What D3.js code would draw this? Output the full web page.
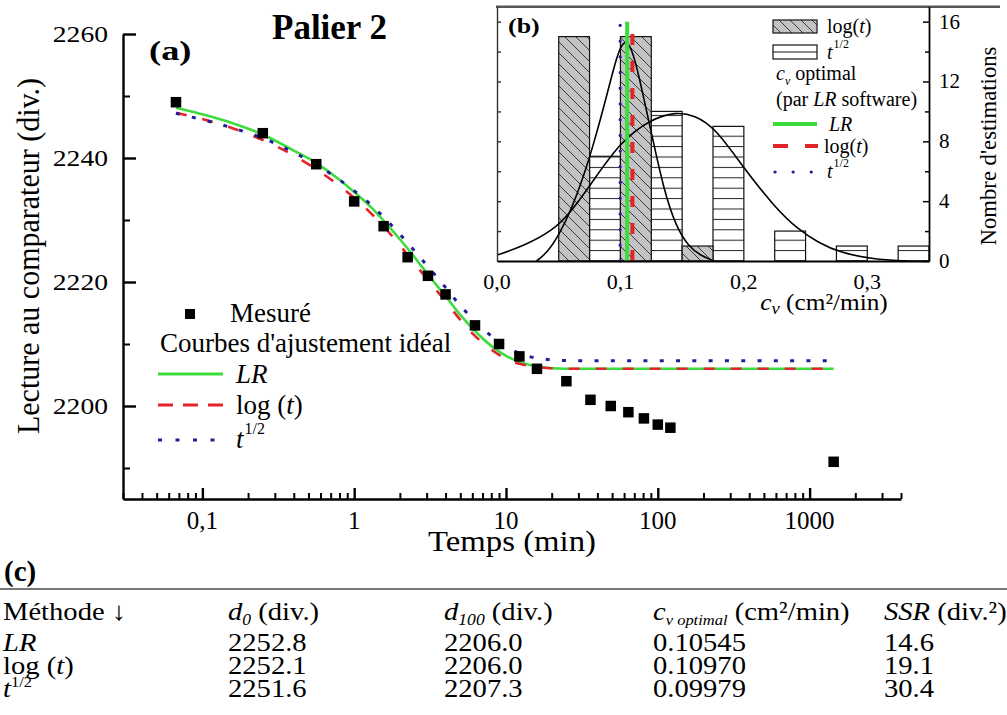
<!DOCTYPE html>
<html>
<head>
<meta charset="utf-8">
<script src="https://cdn.jsdelivr.net/npm/d3@7"></script>
<style>
  html, body { margin: 0; padding: 0; background: #fff; }
  svg { display: block; font-family: "Liberation Serif", "Times New Roman", serif; }
</style>
</head>
<body>
<svg id="fig" width="1007" height="715"></svg>
<script>
// ---------- (a) Palier 2 : dial readings vs time ----------
const timeMin = [0.067, 0.25, 0.5625, 1, 1.5625, 2.25, 3.0625, 4, 6.25, 9, 12.25, 16, 25, 36, 49, 64, 81, 100, 121, 1440];
const reading = [2249, 2244, 2239, 2233, 2229, 2224, 2221, 2218, 2213, 2210, 2208, 2206, 2204, 2201, 2200, 2199, 2198, 2197, 2196.5, 2191];

// best-fit curves (LR, log(t), t^1/2)
const fitTime = [0.067, 0.15, 0.25, 0.4, 0.57, 0.8, 1, 1.3, 1.56, 2, 2.5, 3.06, 4, 5, 6.25, 8, 10, 12.25, 16, 20, 30, 1440];
const fitLR   = [2248.1, 2245.8, 2243.8, 2241.2, 2239.1, 2236.5, 2234.5, 2232.0, 2229.9, 2226.9, 2224.0, 2221.2, 2217.7, 2214.7, 2212.1, 2209.7, 2208.1, 2207.1, 2206.4, 2206.1, 2206.0, 2206.0];
const fitLog  = [2247.3, 2245.0, 2242.9, 2240.4, 2238.1, 2235.5, 2233.6, 2231.0, 2229.0, 2225.9, 2223.0, 2220.3, 2216.9, 2213.9, 2211.3, 2209.1, 2207.6, 2206.8, 2206.3, 2206.1, 2206.0, 2206.0];
const fitSqrt = [2247.2, 2245.0, 2243.2, 2240.9, 2238.8, 2236.5, 2234.7, 2232.4, 2230.5, 2227.7, 2225.0, 2222.5, 2219.1, 2216.2, 2213.7, 2211.3, 2209.6, 2208.5, 2207.7, 2207.45, 2207.3, 2207.3];

const xMajorTicks = [0.1, 1, 10, 100, 1000];
const xTickLabels = ["0,1", "1", "10", "100", "1000"];
const yMajorTicks = [2200, 2220, 2240, 2260];
const yMinorTicks = [2190, 2210, 2230, 2250];

// ---------- (b) histogram of c_v estimates ----------
const binWidth = 0.025;
const logBinStart = [0.05, 0.10, 0.15];
const logCount = [15, 15, 1];
const sqrtBinStart = [0.075, 0.125, 0.175, 0.225, 0.275, 0.325];
const sqrtCount = [7, 10, 9, 2, 1, 1];

const narrowCv = [0.032, 0.04, 0.05, 0.06, 0.07, 0.08, 0.09, 0.097, 0.103, 0.109, 0.115, 0.125, 0.135, 0.145, 0.155, 0.165, 0.176];
const narrowN  = [0, 0.5, 1.7, 3.4, 5.6, 8.3, 11.4, 13.7, 14.85, 14.3, 12.4, 8.6, 4.8, 2.3, 1.0, 0.35, 0];
const wideCv = [0, 0.02, 0.045, 0.06, 0.075, 0.1, 0.125, 0.145, 0.16, 0.177, 0.2, 0.225, 0.244, 0.26, 0.278, 0.305, 0.332];
const wideN  = [0.4, 0.95, 2.0, 3.3, 5.0, 8.0, 9.5, 9.97, 9.75, 8.9, 6.2, 3.6, 2.1, 1.25, 0.55, 0.12, 0];

const cvTicks = [0, 0.1, 0.2, 0.3];
const cvTickLabels = ["0,0", "0,1", "0,2", "0,3"];
const countTicks = [0, 4, 8, 12, 16];
const countMinor = [2, 6, 10, 14];

// ---------- (c) table ----------
const methods = ["LR", "log", "sqrt"];
const d0 = [2252.8, 2252.1, 2251.6];
const d100 = [2206.0, 2206.0, 2207.3];
const cvOptimal = [0.10545, 0.10970, 0.09979];
const ssr = [14.6, 19.1, 30.4];

const GREEN = "#3ddc3d", RED = "#e3242b", BLUE = "#1f1f9a";

const svg = d3.select("#fig");

// text helper: runs of plain / italic / raised / lowered pieces
function rich(parent, x, y, runs, o = {}) {
  let tf = `translate(${x},${y})`;
  if (o.sx && o.sx !== 1) tf += ` scale(${o.sx},1)`;
  if (o.rot) tf += ` rotate(${o.rot})`;
  const t = parent.append("text").attr("transform", tf)
    .attr("font-size", o.size || 20)
    .attr("text-anchor", o.anchor || "start")
    .attr("fill", "#000");
  if (o.bold) t.attr("font-weight", "bold");
  let cur = 0;
  runs.forEach(r => {
    if (typeof r === "string") r = { t: r };
    const shift = r.shift || 0;
    const ts = t.append("tspan").text(r.t);
    if (shift !== cur) ts.attr("dy", cur - shift);
    cur = shift;
    if (r.i) ts.attr("font-style", "italic");
    if (r.size) ts.attr("font-size", r.size);
    if (r.dx) ts.attr("dx", r.dx);
  });
  return t;
}

// ================= panel (a) =================
const x = d3.scaleLog().domain([0.03, 4000]).range([123, 901]);
const y = d3.scaleLinear().domain([2185, 2260]).range([499, 34]);
const gA = svg.append("g");

const xMinorTicks = [];
for (let e = -2; e <= 3; e++) for (let k = 2; k <= 9; k++) {
  const v = +(k * Math.pow(10, e)).toPrecision(6);
  if (v >= 0.03 && v <= 4000) xMinorTicks.push(v);
}

function styleAxis(g, w) {
  g.selectAll("path.domain").attr("stroke", "#000").attr("stroke-width", w);
  g.selectAll(".tick line").attr("stroke", "#000").attr("stroke-width", w);
  g.selectAll(".tick text").remove();
}

const gxMinor = gA.append("g").attr("transform", "translate(0,499)")
  .call(d3.axisBottom(x).tickValues(xMinorTicks).tickSizeInner(-6).tickSizeOuter(0).tickFormat(""));
styleAxis(gxMinor, 2);
const gxMajor = gA.append("g").attr("transform", "translate(0,499)")
  .call(d3.axisBottom(x).tickValues(xMajorTicks).tickSizeInner(-11).tickSizeOuter(0).tickFormat(""));
styleAxis(gxMajor, 2.4);
gxMinor.select("path.domain").remove();

const gyMinor = gA.append("g").attr("transform", "translate(123,0)")
  .call(d3.axisLeft(y).tickValues(yMinorTicks).tickSizeInner(-7).tickSizeOuter(0).tickFormat(""));
styleAxis(gyMinor, 2);
gyMinor.select("path.domain").remove();
const gyMajor = gA.append("g").attr("transform", "translate(123,0)")
  .call(d3.axisLeft(y).tickValues(yMajorTicks).tickSizeInner(-13).tickSizeOuter(0).tickFormat(""));
styleAxis(gyMajor, 2.4);

xMajorTicks.forEach((v, i) => rich(gA, x(v), 529, [xTickLabels[i]], { size: 25, anchor: "middle" }));
yMajorTicks.forEach(v => rich(gA, 108, y(v) + 7.5, [String(v)], { size: 24, anchor: "end", sx: 1.15 }));

rich(gA, 512, 551, ["Temps (min)"], { size: 29, anchor: "middle", sx: 1.13 });
rich(gA, 39, 256, ["Lecture au comparateur (div.)"], { size: 30, anchor: "middle", rot: -90, sx: 1.08 });
rich(gA, 272, 39, ["Palier 2"], { size: 35, bold: true });
rich(gA, 149, 60, ["(a)"], { size: 27, bold: true, sx: 1.35 });

// fitted curves
const fitLine = d3.line().x(d => x(d[0])).y(d => y(d[1])).curve(d3.curveMonotoneX);
const zipFit = arr => fitTime.map((t, i) => [t, arr[i]]);
gA.append("path").attr("d", fitLine(zipFit(fitLR))).attr("fill", "none")
  .attr("stroke", GREEN).attr("stroke-width", 2.6);
gA.append("path").attr("d", fitLine(zipFit(fitLog))).attr("fill", "none")
  .attr("stroke", RED).attr("stroke-width", 2.6).attr("stroke-dasharray", "11,16");
gA.append("path").attr("d", fitLine(zipFit(fitSqrt))).attr("fill", "none")
  .attr("stroke", BLUE).attr("stroke-width", 3).attr("stroke-dasharray", "4,12.3");

// measured readings
gA.append("g").selectAll("rect").data(timeMin.map((t, i) => [t, reading[i]])).join("rect")
  .attr("x", d => x(d[0]) - 5.25).attr("y", d => y(d[1]) - 5.25)
  .attr("width", 10.5).attr("height", 10.5).attr("fill", "#000");

// legend (a)
gA.append("rect").attr("x", 185).attr("y", 309).attr("width", 10).attr("height", 10).attr("fill", "#000");
rich(gA, 230, 322, ["Mesuré"], { size: 27 });
rich(gA, 160, 352, ["Courbes d'ajustement idéal"], { size: 27 });
gA.append("line").attr("x1", 158).attr("x2", 223).attr("y1", 374).attr("y2", 374)
  .attr("stroke", GREEN).attr("stroke-width", 3);
rich(gA, 236, 383, [{ t: "LR", i: true }], { size: 27 });
gA.append("line").attr("x1", 158).attr("x2", 223).attr("y1", 405).attr("y2", 405)
  .attr("stroke", RED).attr("stroke-width", 3).attr("stroke-dasharray", "15,10");
rich(gA, 236, 414, ["log (", { t: "t", i: true }, ")"], { size: 27 });
gA.append("line").attr("x1", 158).attr("x2", 215).attr("y1", 440).attr("y2", 440)
  .attr("stroke", BLUE).attr("stroke-width", 3).attr("stroke-dasharray", "4,13.5");
rich(gA, 236, 448, [{ t: "t", i: true }, { t: "1/2", size: 16, shift: 14, dx: 1 }], { size: 27 });

// ================= panel (b) =================
const bx = d3.scaleLinear().domain([0, 0.35]).range([497, 929]);
const by = d3.scaleLinear().domain([0, 17]).range([261, 6.7]);
const gB = svg.append("g");

const defs = svg.append("defs");
const hatch = defs.append("pattern").attr("id", "hatch").attr("patternUnits", "userSpaceOnUse")
  .attr("width", 11).attr("height", 11);
hatch.append("rect").attr("width", 11).attr("height", 11).attr("fill", "#c3c3c3");
hatch.append("path").attr("d", "M0,0L11,11M-2,9L2,13M9,-2L13,2")
  .attr("stroke", "#3a3a3a").attr("stroke-width", 1);
const stripes = defs.append("pattern").attr("id", "stripes").attr("patternUnits", "userSpaceOnUse")
  .attr("width", 20).attr("height", 10.4).attr("y", 261 % 10.4 - 0.5);
stripes.append("rect").attr("width", 20).attr("height", 10.4).attr("fill", "#fff");
stripes.append("line").attr("x1", 0).attr("x2", 20).attr("y1", 0.5).attr("y2", 0.5)
  .attr("stroke", "#222").attr("stroke-width", 1);

gB.append("rect").attr("x", 497).attr("y", 6.7).attr("width", 432).attr("height", 254.3).attr("fill", "#fff");

gB.append("g").selectAll("rect").data(sqrtBinStart.map((s, i) => [s, sqrtCount[i]])).join("rect")
  .attr("x", d => bx(d[0])).attr("width", d => bx(d[0] + binWidth) - bx(d[0]))
  .attr("y", d => by(d[1])).attr("height", d => by(0) - by(d[1]))
  .attr("fill", "url(#stripes)").attr("stroke", "#111").attr("stroke-width", 1.2);
gB.append("g").selectAll("rect").data(logBinStart.map((s, i) => [s, logCount[i]])).join("rect")
  .attr("x", d => bx(d[0])).attr("width", d => bx(d[0] + binWidth) - bx(d[0]))
  .attr("y", d => by(d[1])).attr("height", d => by(0) - by(d[1]))
  .attr("fill", "url(#hatch)").attr("stroke", "#111").attr("stroke-width", 1.2);

const distLine = d3.line().x(d => bx(d[0])).y(d => by(d[1])).curve(d3.curveBasis);
gB.append("path").attr("d", distLine(wideCv.map((c, i) => [c, wideN[i]])))
  .attr("fill", "none").attr("stroke", "#000").attr("stroke-width", 1.6);
gB.append("path").attr("d", distLine(narrowCv.map((c, i) => [c, narrowN[i]])))
  .attr("fill", "none").attr("stroke", "#000").attr("stroke-width", 1.6);

// optimal c_v lines
gB.append("line").attr("x1", bx(cvOptimal[0])).attr("x2", bx(cvOptimal[0]))
  .attr("y1", by(0)).attr("y2", by(16)).attr("stroke", GREEN).attr("stroke-width", 4);
gB.append("line").attr("x1", bx(cvOptimal[1])).attr("x2", bx(cvOptimal[1]))
  .attr("y1", by(0)).attr("y2", by(16)).attr("stroke", RED).attr("stroke-width", 4)
  .attr("stroke-dasharray", "11,16");
gB.append("line").attr("x1", bx(cvOptimal[2])).attr("x2", bx(cvOptimal[2]))
  .attr("y1", by(0)).attr("y2", by(16)).attr("stroke", BLUE).attr("stroke-width", 3.2)
  .attr("stroke-linecap", "round").attr("stroke-dasharray", "0.1,15.6");

// frame and axes of the inset
gB.append("line").attr("x1", 496).attr("x2", 1000).attr("y1", 6.7).attr("y2", 6.7)
  .attr("stroke", "#555").attr("stroke-width", 2.6);
const gbl = gB.append("g").attr("transform", "translate(497,0)")
  .call(d3.axisLeft(by).tickValues([2, 4, 6, 8, 10, 12, 14, 16]).tickSizeInner(-4).tickSizeOuter(0).tickFormat(""));
gbl.selectAll("path.domain").attr("stroke", "#333").attr("stroke-width", 1.4);
gbl.selectAll(".tick line").attr("stroke", "#333").attr("stroke-width", 1.4);
const gbrMinor = gB.append("g").attr("transform", "translate(929,0)")
  .call(d3.axisRight(by).tickValues(countMinor).tickSizeInner(-4).tickSizeOuter(0).tickFormat(""));
gbrMinor.select("path.domain").remove();
gbrMinor.selectAll(".tick line").attr("stroke", "#000").attr("stroke-width", 1.5);
const gbr = gB.append("g").attr("transform", "translate(929,0)")
  .call(d3.axisRight(by).tickValues(countTicks).tickSizeInner(-6).tickSizeOuter(0).tickFormat(""));
gbr.selectAll("path.domain").attr("stroke", "#000").attr("stroke-width", 1.8);
gbr.selectAll(".tick line").attr("stroke", "#000").attr("stroke-width", 1.5);
const gbb = gB.append("g").attr("transform", "translate(0,261)")
  .call(d3.axisBottom(bx).tickValues([]).tickSizeOuter(0));
gbb.selectAll("path.domain").attr("stroke", "#000").attr("stroke-width", 2);

cvTicks.forEach((v, i) => rich(gB, bx(v), 289, [cvTickLabels[i]], { size: 20, anchor: "middle", sx: 1.1 }));
countTicks.forEach(v => rich(gB, 939, by(v) + 7, [String(v)], { size: 21 }));
rich(gB, 824, 310, [{ t: "c", i: true }, { t: "ν", i: true, size: 17, shift: -4 }, { t: " (cm²/min)", shift: 0 }], { size: 23, anchor: "middle", sx: 1.1 });
rich(gB, 996, 146, ["Nombre d'estimations"], { size: 22.7, anchor: "middle", rot: -90 });
rich(gB, 508, 33, ["(b)"], { size: 20, bold: true, sx: 1.3 });

// inset legend
gB.append("rect").attr("x", 773).attr("y", 20).attr("width", 44).attr("height", 13)
  .attr("fill", "url(#hatch)").attr("stroke", "#111").attr("stroke-width", 1.2);
rich(gB, 827, 33, ["log(", { t: "t", i: true }, ")"], { size: 20 });
gB.append("rect").attr("x", 773).attr("y", 45).attr("width", 44).attr("height", 14)
  .attr("fill", "#fff").attr("stroke", "#111").attr("stroke-width", 1.2);
gB.append("line").attr("x1", 773).attr("x2", 817).attr("y1", 52).attr("y2", 52)
  .attr("stroke", "#111").attr("stroke-width", 1);
rich(gB, 827, 59, [{ t: "t", i: true }, { t: "1/2", size: 12, shift: 11, dx: 1 }], { size: 20 });
rich(gB, 776, 80, [{ t: "c", i: true }, { t: "v", i: true, size: 12, shift: -5 }, { t: " optimal", shift: 0 }], { size: 20 });
rich(gB, 776, 106, ["(par ", { t: "LR", i: true }, " software)"], { size: 20 });
gB.append("line").attr("x1", 773).attr("x2", 817).attr("y1", 124).attr("y2", 124)
  .attr("stroke", GREEN).attr("stroke-width", 4);
rich(gB, 829, 131, [{ t: "LR", i: true }], { size: 20 });
gB.append("line").attr("x1", 773).attr("x2", 818).attr("y1", 146).attr("y2", 146)
  .attr("stroke", RED).attr("stroke-width", 4).attr("stroke-dasharray", "15,17");
rich(gB, 824, 153, ["log(", { t: "t", i: true }, ")"], { size: 20 });
gB.append("line").attr("x1", 775).attr("x2", 812).attr("y1", 172).attr("y2", 172)
  .attr("stroke", BLUE).attr("stroke-width", 3.2).attr("stroke-linecap", "round")
  .attr("stroke-dasharray", "0.1,18");
rich(gB, 827, 178, [{ t: "t", i: true }, { t: "1/2", size: 12, shift: 11, dx: 1 }], { size: 20 });

// ================= panel (c) : table =================
const gC = svg.append("g");
rich(gC, 4, 581, ["(c)"], { size: 29, bold: true });
gC.append("line").attr("x1", 0).attr("x2", 1007).attr("y1", 589).attr("y2", 589)
  .attr("stroke", "#777").attr("stroke-width", 2);

const colX = [3, 228, 444, 653, 884];
const rowY = [620, 651, 674, 697];
const TS = 26, TSX = 1.1;
rich(gC, colX[0], rowY[0], ["Méthode ↓"], { size: TS, sx: TSX });
rich(gC, colX[1], rowY[0], [{ t: "d", i: true }, { t: "0", i: true, size: 16, shift: -5 }, { t: "  (div.)", shift: 0 }], { size: TS, sx: TSX });
rich(gC, colX[2], rowY[0], [{ t: "d", i: true }, { t: "100", i: true, size: 16, shift: -5 }, { t: "  (div.)", shift: 0 }], { size: TS, sx: TSX });
rich(gC, colX[3], rowY[0], [{ t: "c", i: true }, { t: "v optimal", i: true, size: 15, shift: -5 }, { t: "  (cm²/min)", shift: 0 }], { size: TS, sx: TSX });
rich(gC, colX[4], rowY[0], [{ t: "SSR", i: true }, " (div.²)"], { size: TS, sx: TSX });

const methodLabels = [
  [{ t: "LR", i: true }],
  ["log (", { t: "t", i: true }, ")"],
  [{ t: "t", i: true }, { t: "1/2", size: 15, shift: 10 }]
];
methods.forEach((m, i) => {
  const yy = rowY[i + 1];
  rich(gC, colX[0], yy, methodLabels[i], { size: TS, sx: TSX });
  rich(gC, colX[1], yy, [d0[i].toFixed(1)], { size: TS, sx: TSX });
  rich(gC, colX[2], yy, [d100[i].toFixed(1)], { size: TS, sx: TSX });
  rich(gC, colX[3], yy, [cvOptimal[i].toFixed(5)], { size: TS, sx: TSX });
  rich(gC, colX[4], yy, [ssr[i].toFixed(1)], { size: TS, sx: TSX });
});
</script>
</body>
</html>
